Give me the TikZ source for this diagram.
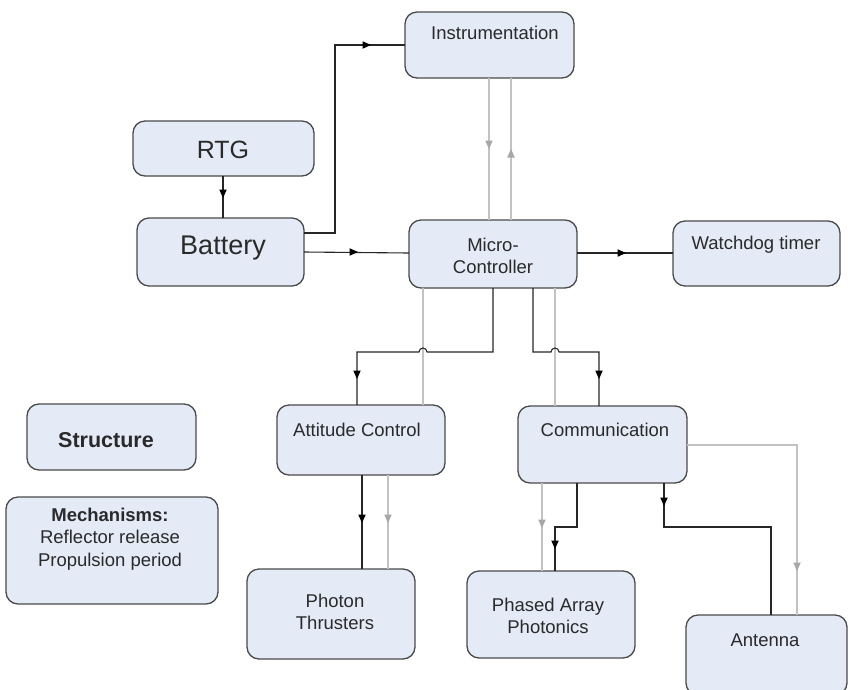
\documentclass[tikz,border=0pt]{standalone}
\usepackage{fontspec}
\setmainfont{Liberation Sans}
\definecolor{boxfill}{HTML}{E4EBF6}
\definecolor{boxline}{HTML}{4A4A4A}
\definecolor{txt}{HTML}{2A2A2A}
\definecolor{lgray}{HTML}{C2C2C2}
\definecolor{tgray}{HTML}{A8A8A8}
\begin{document}
\begin{tikzpicture}[x=1pt,y=1pt,
  box/.style={draw=boxline, fill=boxfill, rounded corners=12pt, line width=1.3pt, inner sep=0pt, outer sep=0pt},
  lbl/.style={text=txt, font=\fontsize{18.5}{22.5}\selectfont, align=center, inner sep=0pt},
  blk/.style={draw=black!85, line width=1.1pt},
  gry/.style={draw=lgray, line width=1.5pt},
  atip/.pic={\fill (2,0) -- (-6.5,3.8) -- (-6.5,-3.8) -- cycle;}]
\useasboundingbox (0,0) rectangle (849,-689);

% boxes
\node[box, minimum width=169pt, minimum height=66pt] (inst) at (489.5,-45) {};
\node[box, minimum width=181pt, minimum height=55pt] (rtg) at (223.5,-148.5) {};
\node[box, minimum width=167pt, minimum height=68pt] (bat) at (220.5,-252) {};
\node[box, minimum width=168pt, minimum height=68pt] (mc) at (493,-254) {};
\node[box, minimum width=167pt, minimum height=65pt] (wd) at (756.5,-253.5) {};
\node[box, minimum width=168pt, minimum height=70pt] (att) at (361,-440) {};
\node[box, minimum width=169pt, minimum height=77pt] (com) at (602.5,-444.5) {};
\node[box, minimum width=168pt, minimum height=90pt] (pt) at (331,-614) {};
\node[box, minimum width=168pt, minimum height=87pt] (pa) at (551,-614.5) {};
\node[box, minimum width=161pt, minimum height=80pt] (ant) at (766.5,-655) {};
\node[box, minimum width=169pt, minimum height=66pt] (str) at (111.5,-437) {};
\node[box, minimum width=212pt, minimum height=107pt] (mech) at (112,-550.5) {};

% labels
\node[lbl] (tinst) at (495,-33) {Instrumentation};
\node[lbl, font=\fontsize{25}{30}\selectfont] (trtg) at (223,-150) {RTG};
\node[lbl, font=\fontsize{27}{32}\selectfont] (tbat) at (223,-248) {Battery};
\node[lbl] (tmc) at (493,-256) {Micro-\\Controller};
\node[lbl] (twd) at (756,-245) {Watchdog timer};
\node[lbl] (tatt) at (357,-430) {Attitude Control};
\node[lbl] (tcom) at (605,-430) {Communication};
\node[lbl] (tpt) at (335,-612) {Photon\\Thrusters};
\node[lbl] (tpa) at (548,-616) {Phased Array\\Photonics};
\node[lbl] (tant) at (765,-640) {Antenna};
\node[lbl, font=\fontsize{21.5}{26}\selectfont\bfseries] (tstr) at (106,-440) {Structure};
\node[lbl] (tmech) at (110,-539) {\textbf{Mechanisms:}\\Reflector release\\Propulsion period};

% gray connectors
\draw[gry] (489,0 |- inst.south) -- (489,0 |- mc.north);
\draw[gry] (511,0 |- mc.north) -- (511,0 |- inst.south);
\draw[gry] (423,0 |- mc.south) -- (423,0 |- att.north);
\draw[gry] (555,0 |- mc.south) -- (555,0 |- com.north);
\draw[gry] (388,0 |- att.south) -- (388,0 |- pt.north);
\draw[gry] (542,0 |- com.south) -- (542,0 |- pa.north);
\draw[gry] (com.east |- 0,-445) -- (797,-445) -- (797,0 |- ant.north);

% black connectors
\draw[blk] (223,0 |- rtg.south) -- (223,0 |- bat.north);
\draw[blk] (bat.east |- 0,-233) -- (335,-233) -- (335,-45) -- (inst.west);
\draw[blk] (bat.east |- 0,-252) -- (mc.west |- 0,-253);
\draw[blk] (mc.east |- 0,-253) -- (wd.west |- 0,-253);
\draw[blk] (493,0 |- mc.south) -- (493,-352) -- (427,-352) arc (0:180:4) -- (357,-352) -- (357,0 |- att.north);
\draw[blk] (533,0 |- mc.south) -- (533,-352) -- (551,-352) arc (180:0:4) -- (599,-352) -- (599,0 |- com.north);
\draw[blk] (362,0 |- att.south) -- (362,0 |- pt.north);
\draw[blk] (577,0 |- com.south) -- (577,-527) -- (555,-527) -- (555,0 |- pa.north);
\draw[blk] (664,0 |- com.south) -- (664,-527) -- (771,-527) -- (771,0 |- ant.north);

% arrow tips
\pic[rotate=-90, black] at (223,-196) {atip};
\pic[black] at (369,-45) {atip};
\pic[black] at (356,-252) {atip};
\pic[black] at (624,-253) {atip};
\pic[rotate=-90, black] at (357,-377) {atip};
\pic[rotate=-90, black] at (599,-377) {atip};
\pic[rotate=-90, black] at (362,-521) {atip};
\pic[rotate=-90, black] at (555,-547) {atip};
\pic[rotate=-90, black] at (664,-504) {atip};
\pic[rotate=-90, tgray] at (489,-147) {atip};
\pic[rotate=90, tgray] at (511,-151) {atip};
\pic[rotate=-90, tgray] at (388,-521) {atip};
\pic[rotate=-90, tgray] at (542,-526) {atip};
\pic[rotate=-90, tgray] at (797,-569) {atip};
\end{tikzpicture}
\end{document}
